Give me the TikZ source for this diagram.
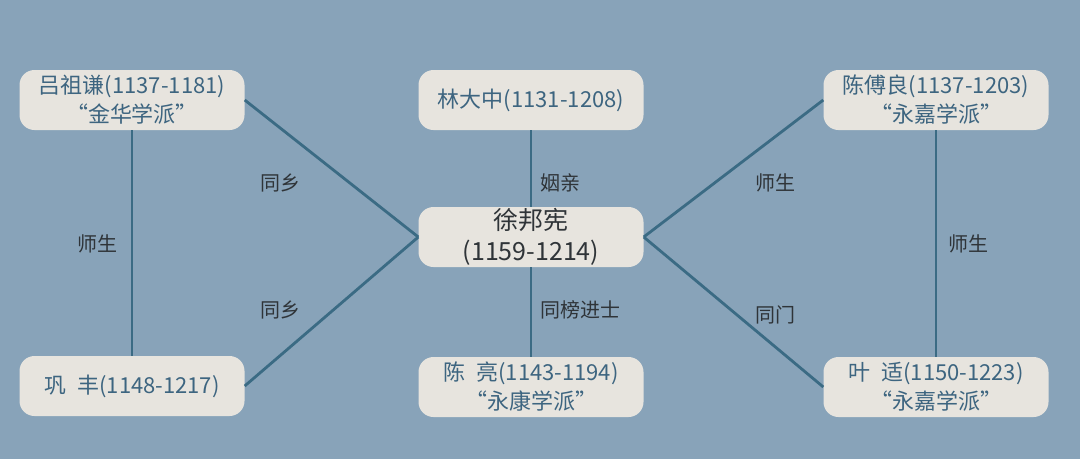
\documentclass[tikz,border=0pt]{standalone}
\usepackage{fontspec}
\setmainfont{Noto Sans CJK SC}
\definecolor{bgblue}{HTML}{88A3B9}
\definecolor{boxfill}{HTML}{E7E4DE}
\definecolor{linkblue}{HTML}{3B6B84}
\definecolor{nametext}{HTML}{3D6580}
\definecolor{lbltext}{HTML}{2F3438}
\tikzset{
  person/.style={rectangle,rounded corners=15pt,fill=boxfill,text=nametext,
    minimum width=225pt,minimum height=60pt,align=center,inner sep=1pt,
    font=\fontsize{22}{29}\selectfont},
  hub/.style={person,text=lbltext,font=\fontsize{25}{31}\selectfont},
  link/.style={draw=linkblue,line width=2.8pt},
  lbl/.style={text=lbltext,font=\fontsize{20}{24}\selectfont}
}
\begin{document}
\begin{tikzpicture}[x=1pt,y=-1pt]
   \fill[bgblue] (0,0) rectangle (1080,459);
   \useasboundingbox (0,0) rectangle (1080,459);

   \node[hub] (xu) at (531,237) {徐邦宪\\(1159-1214)};
   \node[person] (lv) at (132,100) {吕祖谦(1137-1181)\\“金华学派”};
   \node[person] (lin) at (531,100) {林大中(1131-1208)};
   \node[person] (cfl) at (936,100) {陈傅良(1137-1203)\\“永嘉学派”};
   \node[person] (gong) at (132,386) {巩\hspace{0.5em}丰(1148-1217)};
   \node[person] (cl) at (531,387) {陈\hspace{0.5em}亮(1143-1194)\\“永康学派”};
   \node[person] (ye) at (936,387) {叶\hspace{0.5em}适(1150-1223)\\“永嘉学派”};

   \draw[link] (lv.south) -- (gong.north);
   \draw[link] (cfl.south) -- (ye.north);
   \draw[link] (lin.south) -- (xu.north);
   \draw[link] (xu.south) -- (cl.north);
   \draw[link] (lv.east) -- (xu.west);
   \draw[link] (gong.east) -- (xu.west);
   \draw[link] (cfl.west) -- (xu.east);
   \draw[link] (ye.west) -- (xu.east);

   \node[lbl] (l1) at (280,183) {同乡};
   \node[lbl] (l2) at (280,310) {同乡};
   \node[lbl] (l3) at (97,244) {师生};
   \node[lbl] (l4) at (560,183) {姻亲};
   \node[lbl] (l5) at (580,310) {同榜进士};
   \node[lbl] (l6) at (775,183) {师生};
   \node[lbl] (l7) at (775,315) {同门};
   \node[lbl] (l8) at (968,244) {师生};
\end{tikzpicture}
\end{document}
